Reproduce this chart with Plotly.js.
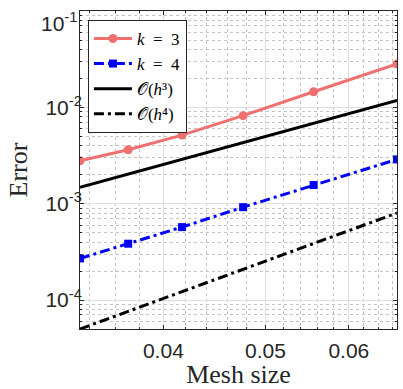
<!DOCTYPE html>
<html>
<head>
<meta charset="utf-8">
<script src="https://cdn.plot.ly/plotly-3.0.1.min.js"></script>
<style>
  html, body { margin: 0; padding: 0; background: white; }
  #chart { width: 403px; height: 389px; }
</style>
</head>
<body>
<div id="chart"></div>
<script>
// mesh sizes h = 1/30 ... 1/15
const meshSize = [1/30, 1/27, 1/24, 1/21, 1/18, 1/15];
// errors
const errK3 = [2.79e-3, 3.63e-3, 5.15e-3, 8.2e-3, 1.45e-2, 2.82e-2];
const errK4 = [2.70e-4, 3.84e-4, 5.71e-4, 9.2e-4, 1.56e-3, 2.88e-3];
// reference slopes, end points only
const refX = [1/30, 1/15];
const refH3 = [1.48e-3, 1.18e-2];
const refH4 = [5.0e-5, 8.0e-4];

const xTicks = [0.04, 0.05, 0.06];
const xTickText = ["0.04", "0.05", "0.06"];
const yTicks = [1e-4, 1e-3, 1e-2, 1e-1];
// top label is drawn as an annotation, shifted down like matlab does
const yTickText = ["10<sup>-4</sup>", "10<sup>-3</sup>", "10<sup>-2</sup>", ""];
const yTopLabel = "10<sup>-1</sup>";

// minor grid values
const xMinor = [];
for (let v = 0.034; v <= 0.0665; v += 0.002) xMinor.push(+v.toFixed(3));
const yMinor = [];
for (let e = -5; e <= -2; e++) for (let d = 2; d <= 9; d++) yMinor.push(d * Math.pow(10, e));

const dashDot = "10px,4px,3px,4px";
const serif = "Liberation Serif, DejaVu Serif, serif";
const sans = "Liberation Sans, Arial, sans-serif";
const sp = "\u2002";

const traces = [
  { x: meshSize, y: errK3, type: "scatter", mode: "lines+markers", name: "<i>k</i>" + sp + "=" + sp + "3",
    line: { color: "#f07070", width: 3 }, marker: { symbol: "circle", size: 9, color: "#f07070" } },
  { x: meshSize, y: errK4, type: "scatter", mode: "lines+markers", name: "<i>k</i>" + sp + "=" + sp + "4",
    line: { color: "#0000ff", width: 3, dash: dashDot }, marker: { symbol: "square", size: 8, color: "#0000ff" } },
  { x: refX, y: refH3, type: "scatter", mode: "lines", name: "𝒪(<i>h</i>³)",
    line: { color: "black", width: 3 } },
  { x: refX, y: refH4, type: "scatter", mode: "lines", name: "𝒪(<i>h</i>⁴)",
    line: { color: "black", width: 3, dash: dashDot } }
];

const axisCommon = {
  showline: true, linecolor: "#262626", linewidth: 1, mirror: "ticks",
  ticks: "inside", ticklen: 4, tickcolor: "#262626",
  showgrid: true, gridcolor: "#dedede", gridwidth: 1, zeroline: false,
  ticklabeloverflow: "allow",
  tickfont: { family: sans, size: 21, color: "#262626" }
};

const layout = {
  width: 403, height: 389,
  margin: { l: 80, r: 6, t: 11, b: 60 },
  plot_bgcolor: "white", paper_bgcolor: "white",
  showlegend: true,
  legend: {
    x: 0.025, y: 0.972, xanchor: "left", yanchor: "top",
    bgcolor: "white", bordercolor: "#262626", borderwidth: 1,
    font: { family: serif, size: 17, color: "black" },
    itemwidth: 38, tracegroupgap: 0
  },
  annotations: [{
    text: yTopLabel, xref: "paper", yref: "paper", x: 0, y: 1,
    xanchor: "right", yanchor: "top", xshift: -1, yshift: 4, showarrow: false,
    font: { family: sans, size: 21, color: "#262626" }
  }],
  xaxis: Object.assign({}, axisCommon, {
    type: "log", range: [Math.log10(1/30), Math.log10(1/15)],
    tickmode: "array", tickvals: xTicks, ticktext: xTickText, ticklabelstandoff: 3,
    minor: { tickmode: "array", tickvals: xMinor, ticks: "inside", ticklen: 2, tickcolor: "#262626",
             showgrid: true, gridcolor: "#c4c4c4", griddash: "dot", gridwidth: 1 },
    title: { text: "Mesh size", standoff: 0, font: { family: serif, size: 26, color: "#262626" } }
  }),
  yaxis: Object.assign({}, axisCommon, {
    type: "log", range: [Math.log10(5e-5), -1],
    tickmode: "array", tickvals: yTicks, ticktext: yTickText, ticklabelstandoff: -7,
    minor: { tickmode: "array", tickvals: yMinor, ticks: "inside", ticklen: 2, tickcolor: "#262626",
             showgrid: true, gridcolor: "#c4c4c4", griddash: "dot", gridwidth: 1 },
    title: { text: "Error", standoff: 10, font: { family: serif, size: 26, color: "#262626" } }
  })
};

Plotly.newPlot("chart", traces, layout, { displayModeBar: false, staticPlot: true });
</script>
</body>
</html>
